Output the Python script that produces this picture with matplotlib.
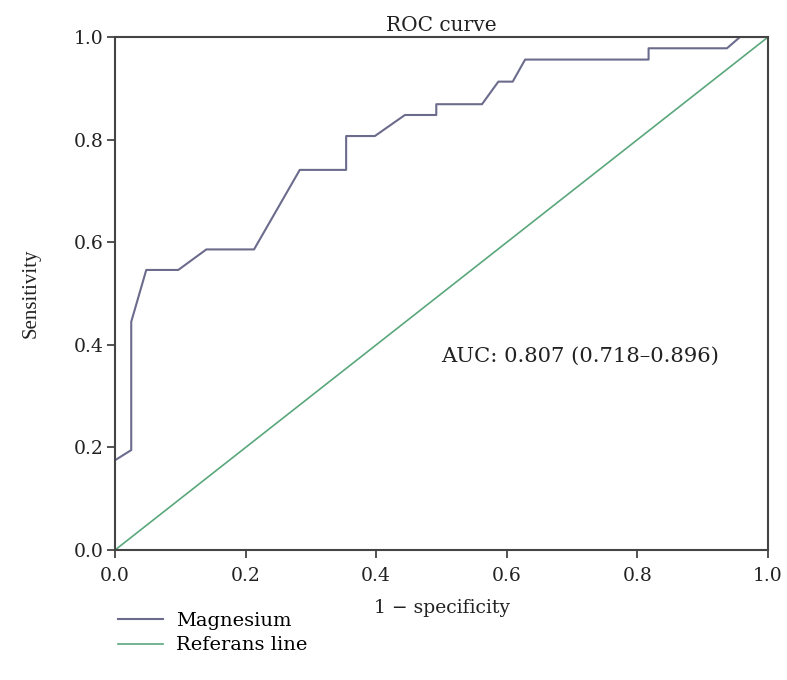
import matplotlib
matplotlib.use('Agg')
import matplotlib.pyplot as plt

# ROC curve points (1 - specificity, sensitivity)
fpr = [0.0, 0.025, 0.025, 0.048, 0.097, 0.140, 0.213, 0.283, 0.354, 0.354,
       0.398, 0.444, 0.492, 0.492, 0.562, 0.587, 0.609, 0.628, 0.817, 0.817,
       0.937, 0.957, 1.0]
tpr = [0.175, 0.195, 0.445, 0.546, 0.546, 0.586, 0.586, 0.741, 0.741, 0.807,
       0.807, 0.848, 0.848, 0.869, 0.869, 0.913, 0.913, 0.956, 0.956, 0.978,
       0.978, 1.0, 1.0]
ref_line = [0.0, 1.0]
ticks = [0.0, 0.2, 0.4, 0.6, 0.8, 1.0]
auc_text = 'AUC: 0.807 (0.718\u20130.896)'

plt.rcParams['font.family'] = ['DejaVu Serif']

fig = plt.figure(figsize=(7.87, 6.8), dpi=100)
ax = fig.add_axes([0.146, 0.191, 0.83, 0.7546])

mg, = ax.plot(fpr, tpr, color='#6b6b8c', linewidth=1.5, label='Magnesium')
rl, = ax.plot(ref_line, ref_line, color='#5aa77c', linewidth=1.2, label='Referans line')

ax.set_xlim(0, 1)
ax.set_ylim(0, 1)
ax.set_xticks(ticks)
ax.set_yticks(ticks)
ax.set_xticklabels(['%.1f' % t for t in ticks])
ax.set_yticklabels(['%.1f' % t for t in ticks])
ax.tick_params(direction='out', length=6, width=1.3, color='#444444',
               labelsize=13.5, labelcolor='#222222')
ax.tick_params(axis='x', pad=6)
ax.tick_params(axis='y', pad=2)
for s in ax.spines.values():
    s.set_color('#444444')
    s.set_linewidth(1.5)

ax.set_title('ROC curve', fontsize=14.5, pad=4, color='#222222')
ax.set_xlabel('1 \u2212 specificity', fontsize=13.5, color='#222222', labelpad=10)
ax.set_ylabel('Sensitivity', fontsize=15, color='#222222', labelpad=24,
              family='Liberation Serif')
ax.text(0.499, 0.378, auc_text, fontsize=15.2, color='#222222', va='center', ha='left')

fig.legend(handles=[mg, rl], loc='upper left', bbox_to_anchor=(0.14, 0.112),
           frameon=False, fontsize=14, handlelength=2.3, labelspacing=0.35,
           handletextpad=0.7, borderaxespad=0)

fig.savefig('out.png', dpi=100)
